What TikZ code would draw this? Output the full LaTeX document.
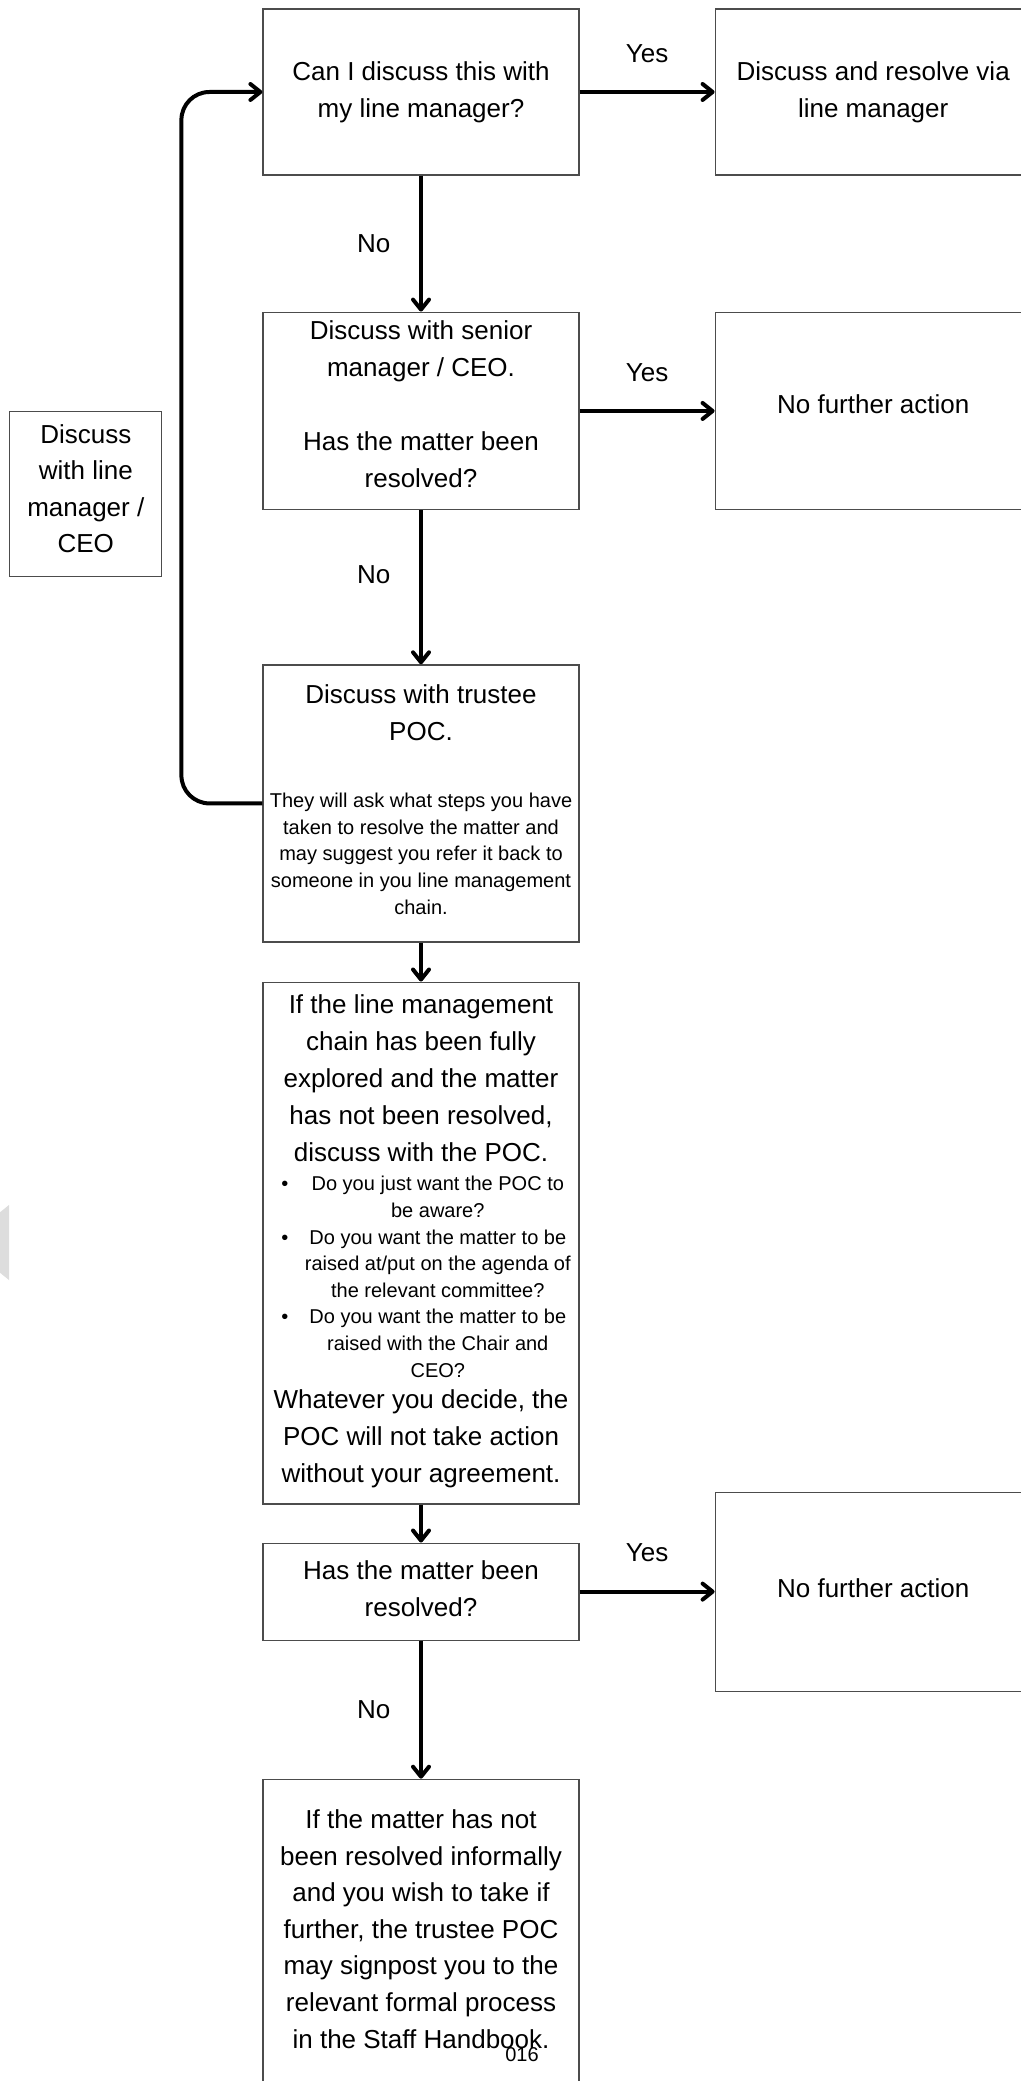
\documentclass[tikz,border=0pt]{standalone}
\usepackage{fontspec}
\setmainfont{Liberation Sans}
\usepackage{tikz}
\usetikzlibrary{positioning,arrows.meta}
\definecolor{ghostgrey}{HTML}{DDDDDD}
\newcommand{\bigtxt}{\fontsize{13}{18.5}\selectfont}
\newcommand{\smalltxt}{\fontsize{10}{13.3}\selectfont}

\begin{document}
\begin{tikzpicture}[node distance=19pt, >={Straight Barb[length=5pt,width=8pt,round]}, every node/.style={font=\bigtxt}]
\tikzstyle{block}=[rectangle, draw=black!70, line width=0.6pt, align=center, inner sep=2pt, minimum width=158pt]
\tikzstyle{link}=[->, line width=2pt]
\useasboundingbox (0,0) rectangle (510.5pt,-1040.5pt);
\fill[ghostgrey] (-6pt,-611pt) -- (4.5pt,-602.5pt) -- (4.5pt,-640pt) -- (-6pt,-631.5pt) -- cycle;
\node[block, minimum height=83pt] (ask) at (210.5pt,-46pt) {Can I discuss this with\\my line manager?};
\node[block, minimum height=98.75pt, text depth=6.6pt, below=68pt of ask] (senior) {Discuss with senior\\manager / CEO.\\[18.5pt]Has the matter been\\resolved?};
\node[block, minimum height=138.5pt, below=77pt of senior] (trustee) {Discuss with trustee\\POC.\\[15pt]{\smalltxt\begin{tabular}[t]{@{}c@{}}They will ask what steps you have\\taken to resolve the matter and\\may suggest you refer it back to\\someone in you line management\\chain.\end{tabular}}};
\node[block, minimum height=260.9pt, text depth=4.7pt, below=19.5pt of trustee] (poc) {If the line management\\chain has been fully\\explored and the matter\\has not been resolved,\\discuss with the POC.\\[-3.6pt]{\smalltxt\begin{tabular}[t]{@{\hspace{5pt}}l@{\hspace{8.3pt}}c@{}}
\textbullet & Do you just want the POC to\\
 & be aware?\\
\textbullet & Do you want the matter to be\\
 & raised at/put on the agenda of\\
 & the relevant committee?\\
\textbullet & Do you want the matter to be\\
 & raised with the Chair and\\
 & CEO?
\end{tabular}}\\[1.3pt]Whatever you decide, the\\POC will not take action\\without your agreement.};
\node[block, minimum height=48.5pt, text depth=2.6pt, below=of poc] (resolved) {Has the matter been\\resolved?};
\node[block, minimum height=156pt, text depth=6.4pt, below=69pt of resolved, font=\fontsize{13}{18.3}\selectfont] (handbook) {If the matter has not\\been resolved informally\\and you wish to take if\\further, the trustee POC\\may signpost you to the\\relevant formal process\\in the Staff Handbook.};
\node[block, minimum height=83pt, right=67.5pt of ask] (viamanager) {Discuss and resolve via\\line manager};
\node[block, minimum height=98.75pt, text depth=6.6pt, right=67.5pt of senior] (noaction) {No further action};
\node[block, minimum height=99.5pt, text depth=4pt, right=67.5pt of resolved] (noactionb) {No further action};
\node[block, minimum width=76pt, minimum height=82.5pt, text depth=5.3pt, left=50pt of senior, yshift=-41.35pt, font=\fontsize{13}{18.25}\selectfont] (sidenote) {Discuss\\with line\\manager /\\CEO};
\node[font=\smalltxt] (pagenum) at (261pt,-1027.5pt) {016};
\draw[link] (ask) -- node[above=10.5pt]{Yes} (viamanager);
\draw[link] (senior) -- node[above=10.5pt]{Yes} (noaction);
\draw[link] (resolved) -- node[above=10.5pt]{Yes} (noactionb);
\draw[link] (ask) -- node[left=11pt]{No} (senior);
\draw[link] (senior) -- node[pos=0.42, left=11pt]{No} (trustee);
\draw[link] (trustee) -- (poc);
\draw[link] (poc) -- (resolved);
\draw[link] (resolved) -- node[left=11pt]{No} (handbook);
\draw[link, rounded corners=14pt] (trustee.west) -- ++(-40.5pt,0) |- (ask.west);
\end{tikzpicture}
\end{document}
